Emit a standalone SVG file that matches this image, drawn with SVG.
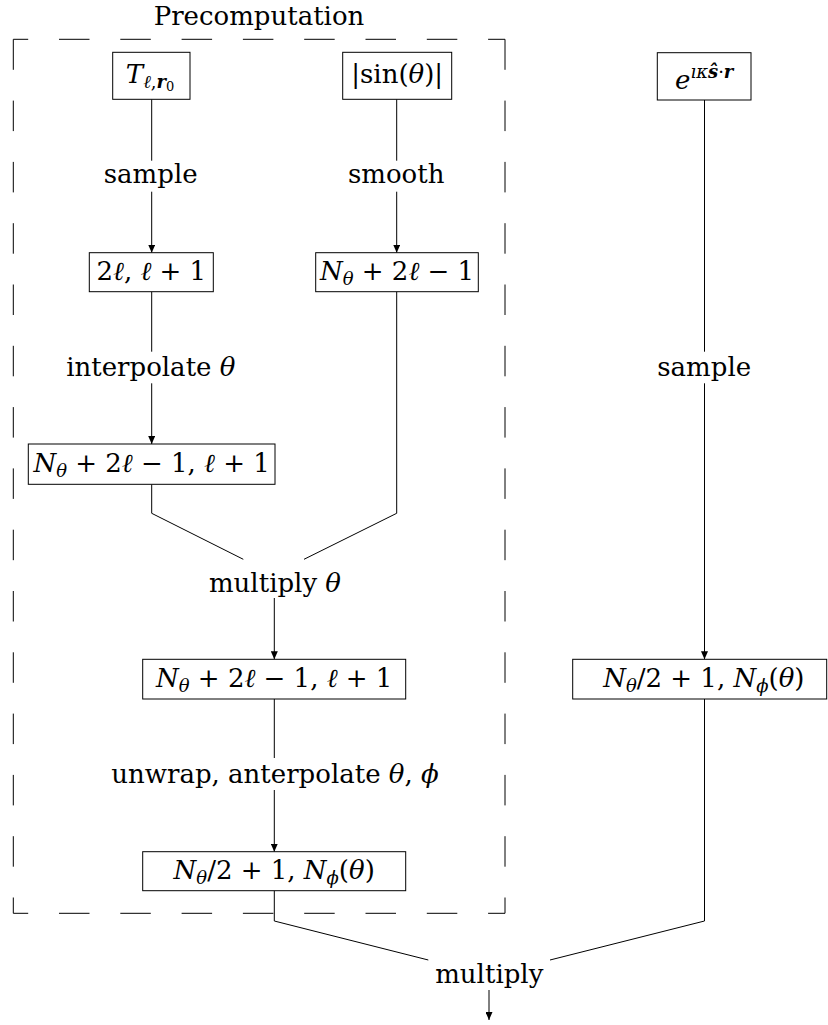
<svg xmlns="http://www.w3.org/2000/svg" width="828" height="1025" viewBox="0 0 828 1025">
<style>
text{font-family:'DejaVu Serif',serif}
.t{font-size:26px;fill:#000;text-anchor:middle}
.i{font-style:italic}
.b{font-style:italic;font-weight:bold}
.s{font-size:18px}
.ss{font-size:13px}
.box{fill:#fff;stroke:#000;stroke-width:1}
.ln{fill:none;stroke:#000;stroke-width:1}
.dash{stroke:#000;stroke-width:1;stroke-dasharray:30.5 30.8}
</style>
<defs>
<marker id="arr" markerUnits="userSpaceOnUse" markerWidth="8" markerHeight="7" refX="8" refY="3.5" orient="auto">
<path d="M0,0 L8,3.5 L0,7 z" fill="#000"/>
</marker>
</defs>
<rect width="828" height="1025" fill="#fff"/>

<g id="precomputation">
<line class="dash" x1="13.3" y1="39.3" x2="505" y2="39.3" stroke-dashoffset="15.6"/>
<line class="dash" x1="13.3" y1="913.3" x2="505" y2="913.3" stroke-dashoffset="15.6"/>
<line class="dash" x1="13.3" y1="39.3" x2="13.3" y2="913.3"/>
<line class="dash" x1="505" y1="39.3" x2="505" y2="913.3"/>
<text class="t" x="259" y="25">Precomputation</text>
</g>

<g id="connectors">
<path class="ln" d="M151.7,99.3 V160.7"/>
<path class="ln" d="M151.7,191.7 V252.7" marker-end="url(#arr)"/>
<path class="ln" d="M396.7,99.3 V160.7"/>
<path class="ln" d="M396.7,191.7 V252.7" marker-end="url(#arr)"/>
<path class="ln" d="M151.7,291.7 V351.7"/>
<path class="ln" d="M151.7,383.3 V444" marker-end="url(#arr)"/>
<path class="ln" d="M704.5,100 V351.7"/>
<path class="ln" d="M704.5,383.3 V659.3" marker-end="url(#arr)"/>
<path class="ln" d="M151.7,484.3 V513.3 L243.3,559.3"/>
<path class="ln" d="M396.7,291.7 V513.3 L304,559.3"/>
<path class="ln" d="M274.3,598 V659.3" marker-end="url(#arr)"/>
<path class="ln" d="M274.3,699 V758"/>
<path class="ln" d="M274.3,790 V851.7" marker-end="url(#arr)"/>
<path class="ln" d="M274.3,890.7 V921 L428.3,960"/>
<path class="ln" d="M704.5,699 V921 L550,960"/>
<path class="ln" d="M489,990 V1020" marker-end="url(#arr)"/>
<text class="t" x="150.7" y="183.3">sample</text>
<text class="t" x="396.2" y="183.3">smooth</text>
<text class="t" x="150.8" y="376">interpolate <tspan class="i">θ</tspan></text>
<text class="t" x="704.2" y="376">sample</text>
<text class="t" x="275" y="591.7">multiply <tspan class="i">θ</tspan></text>
<text class="t" x="275" y="783.3">unwrap, anterpolate <tspan class="i">θ</tspan>, <tspan class="i">ϕ</tspan></text>
<text class="t" x="489.3" y="982.7">multiply</text>
</g>

<g id="node-T">
<rect class="box" x="112.7" y="52.3" width="77.3" height="47"/>
<text class="t" x="150" y="83.3"><tspan class="i">T</tspan><tspan class="i s" dy="5">ℓ</tspan><tspan class="s">,</tspan><tspan class="b s">r</tspan><tspan class="ss" dy="3">0</tspan></text>
</g>

<g id="node-sin">
<rect class="box" x="342.7" y="52.3" width="109" height="47"/>
<text class="t" x="397.2" y="83.3">|sin(<tspan class="i">θ</tspan>)|</text>
</g>

<g id="node-exp">
<rect class="box" x="657.3" y="52.7" width="93.7" height="47.3"/>
<text class="t" x="704.2" y="89.3"><tspan class="i">e</tspan><tspan class="i s" dy="-11">ıκ</tspan><tspan class="b s">ŝ</tspan><tspan class="s">·</tspan><tspan class="b s">r</tspan></text>
</g>

<g id="node-sampled">
<rect class="box" x="89.3" y="252.7" width="124" height="39"/>
<text class="t" x="151.3" y="280">2<tspan class="i">ℓ</tspan>, <tspan class="i">ℓ</tspan> + 1</text>
</g>

<g id="node-smoothed">
<rect class="box" x="315.7" y="252.7" width="162.6" height="39"/>
<text class="t" x="397" y="280"><tspan class="i">N</tspan><tspan class="i s" dy="5">θ</tspan><tspan dy="-5"> + 2</tspan><tspan class="i">ℓ</tspan> − 1</text>
</g>

<g id="node-interpolated">
<rect class="box" x="28.3" y="444" width="246.7" height="40.3"/>
<text class="t" x="151.6" y="472"><tspan class="i">N</tspan><tspan class="i s" dy="5">θ</tspan><tspan dy="-5"> + 2</tspan><tspan class="i">ℓ</tspan> − 1, <tspan class="i">ℓ</tspan> + 1</text>
</g>

<g id="node-multiplied">
<rect class="box" x="142.7" y="659.3" width="263" height="39.7"/>
<text class="t" x="274.2" y="686.7"><tspan class="i">N</tspan><tspan class="i s" dy="5">θ</tspan><tspan dy="-5"> + 2</tspan><tspan class="i">ℓ</tspan> − 1, <tspan class="i">ℓ</tspan> + 1</text>
</g>

<g id="node-unwrapped">
<rect class="box" x="142.7" y="851.7" width="263" height="39"/>
<text class="t" x="274.2" y="879"><tspan class="i">N</tspan><tspan class="i s" dy="5">θ</tspan><tspan dy="-5">/2 + 1, </tspan><tspan class="i">N</tspan><tspan class="i s" dy="5">ϕ</tspan><tspan dy="-5">(</tspan><tspan class="i">θ</tspan>)</text>
</g>

<g id="node-plane">
<rect class="box" x="572.7" y="659.3" width="254" height="39.7"/>
<text class="t" x="703.8" y="686.7"><tspan class="i">N</tspan><tspan class="i s" dy="5">θ</tspan><tspan dy="-5">/2 + 1, </tspan><tspan class="i">N</tspan><tspan class="i s" dy="5">ϕ</tspan><tspan dy="-5">(</tspan><tspan class="i">θ</tspan>)</text>
</g>
</svg>
